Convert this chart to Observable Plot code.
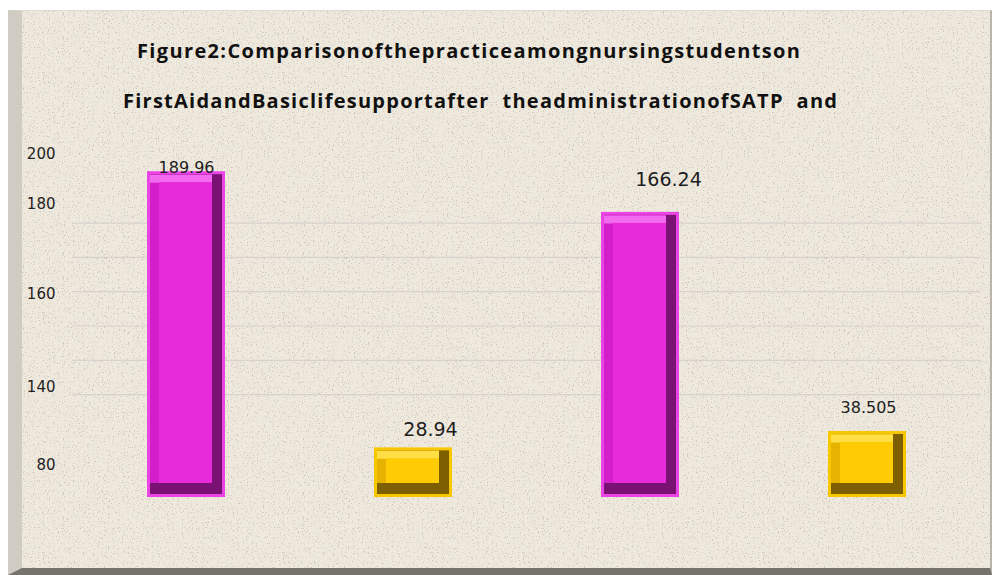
<!DOCTYPE html>
<html>
<head>
<meta charset="utf-8">
<script src="https://cdn.jsdelivr.net/npm/d3@7"></script>
<script src="https://cdn.jsdelivr.net/npm/@observablehq/plot@0.6"></script>
<style>
  html, body { margin: 0; padding: 0; background: #ffffff; }
  #wrap { position: relative; width: 992px; height: 575px; overflow: hidden; background: #ffffff; }
  #panel {
    position: absolute; left: 8px; top: 10px; width: 968px; height: 557px;
    border-left: 14px solid #d0ccc3;
    border-top: 1px solid #dedad2;
    border-bottom: 7px solid #75736c;
    border-right: 2px solid #b9b5ad;
    background-color: #efe9dd;
    background-image:
      url("data:image/svg+xml;utf8,<svg xmlns='http://www.w3.org/2000/svg' width='240' height='240'><filter id='n'><feTurbulence type='fractalNoise' baseFrequency='0.8' numOctaves='2' seed='4' stitchTiles='stitch'/><feColorMatrix values='0 0 0 0 0.6 0 0 0 0 0.56 0 0 0 0 0.5 0 0 0 6 -3.55'/></filter><rect width='100%' height='100%' filter='url(%23n)'/></svg>"),
      url("data:image/svg+xml;utf8,<svg xmlns='http://www.w3.org/2000/svg' width='300' height='300'><filter id='m'><feTurbulence type='fractalNoise' baseFrequency='0.05' numOctaves='3' seed='9' stitchTiles='stitch'/><feColorMatrix values='0 0 0 0 0.86 0 0 0 0 0.82 0 0 0 0 0.74 0 0 0 0.9 -0.38'/></filter><rect width='100%' height='100%' filter='url(%23m)'/></svg>");
  }
  #chart { position: absolute; left: 0; top: 0; }
  #title { position: absolute; left: 0; top: 0; }
</style>
</head>
<body>
<div id="wrap">
  <div id="panel"></div>
  <div id="chart"></div>
  <svg id="title" width="992" height="150" xmlns="http://www.w3.org/2000/svg"></svg>
</div>
<script>
// ---- data ----
const categories = ["Bar 1", "Bar 2", "Bar 3", "Bar 4"];
const series = ["Series A", "Series B", "Series A", "Series B"];
const values = [189.96, 28.94, 166.24, 38.505];
const valueLabels = ["189.96", "28.94", "166.24", "38.505"];
const yTickValues = [200, 170.8, 118.4, 64.1, 18.7];
const yTickLabels = ["200", "180", "160", "140", "80"];
const gridValues = [60, 80, 100, 120, 140, 160];
const titleLines = [
  "Figure2:Comparisonofthepracticeamongnursingstudentson",
  "FirstAidandBasiclifesupportafter  theadministrationofSATP  and"
];

const data = categories.map((c, i) => ({cat: c, series: series[i], value: values[i], label: valueLabels[i]}));

const palette = {
  "Series A": {rim: "#ea44e4", dark: "#7a1273", left: "#d21fca", top: "#f26aee", face: "#e72bd9"},
  "Series B": {rim: "#f7c800", dark: "#7e5f00", left: "#e6b400", top: "#ffdf45", face: "#ffcb05"}
};
const col = k => d => palette[d.series][k];

const labelStyles = [
  {dx: 0, dy: -4, fontSize: 16},
  {dx: 17, dy: -18, fontSize: 19},
  {dx: 28, dy: -32, fontSize: 19},
  {dx: 1, dy: -24, fontSize: 16}
];

const chart = Plot.plot({
  width: 992,
  height: 575,
  marginLeft: 72,
  marginRight: 11,
  marginTop: 154,
  marginBottom: 78,
  style: {background: "transparent", fontFamily: "DejaVu Sans, sans-serif"},
  x: {domain: categories, axis: null, paddingInner: 0.656, paddingOuter: 0.33},
  y: {domain: [0, 200], axis: null},
  marks: [
    Plot.ruleY(gridValues, {stroke: "#d8d2ce", strokeWidth: 1.2}),
    Plot.axisY({
      ticks: yTickValues,
      tickFormat: d => yTickLabels[yTickValues.indexOf(d)],
      tickSize: 0,
      tickPadding: 17,
      fontSize: 15,
      fill: "#1e1e1e",
      label: null
    }),
    Plot.barY(data, {x: "cat", y: "value", fill: col("rim")}),
    Plot.barY(data, {x: "cat", y: "value", fill: col("dark"), inset: 3}),
    Plot.barY(data, {x: "cat", y: "value", fill: col("left"), insetTop: 3, insetLeft: 3, insetRight: 13, insetBottom: 14}),
    Plot.tickY(data, {x: "cat", y: "value", stroke: col("top"), strokeWidth: 8, dy: 7, insetLeft: 3, insetRight: 13}),
    Plot.barY(data, {x: "cat", y: "value", fill: col("face"), insetTop: 11, insetLeft: 12, insetRight: 13, insetBottom: 14}),
    ...labelStyles.map((s, i) => Plot.text([data[i]], {
      x: "cat", y: "value", text: "label",
      dx: s.dx, dy: s.dy, fontSize: s.fontSize,
      fill: "#1e1e1e", fontFamily: "DejaVu Sans, sans-serif"
    }))
  ]
});
document.getElementById("chart").appendChild(chart);

// ---- title ----
const tsvg = d3.select("#title");
const titlePos = [{x: 137, y: 58, w: 663}, {x: 123, y: 108, w: 714}];
titleLines.forEach((t, i) => {
  tsvg.append("text")
    .attr("x", titlePos[i].x).attr("y", titlePos[i].y)
    .attr("textLength", titlePos[i].w).attr("lengthAdjust", "spacing")
    .attr("font-family", "'Open Sans', 'Noto Sans', sans-serif")
    .attr("font-weight", "bold").attr("font-size", 20)
    .attr("fill", "#111")
    .style("white-space", "pre")
    .attr("xml:space", "preserve")
    .text(t);
});
</script>
</body>
</html>
